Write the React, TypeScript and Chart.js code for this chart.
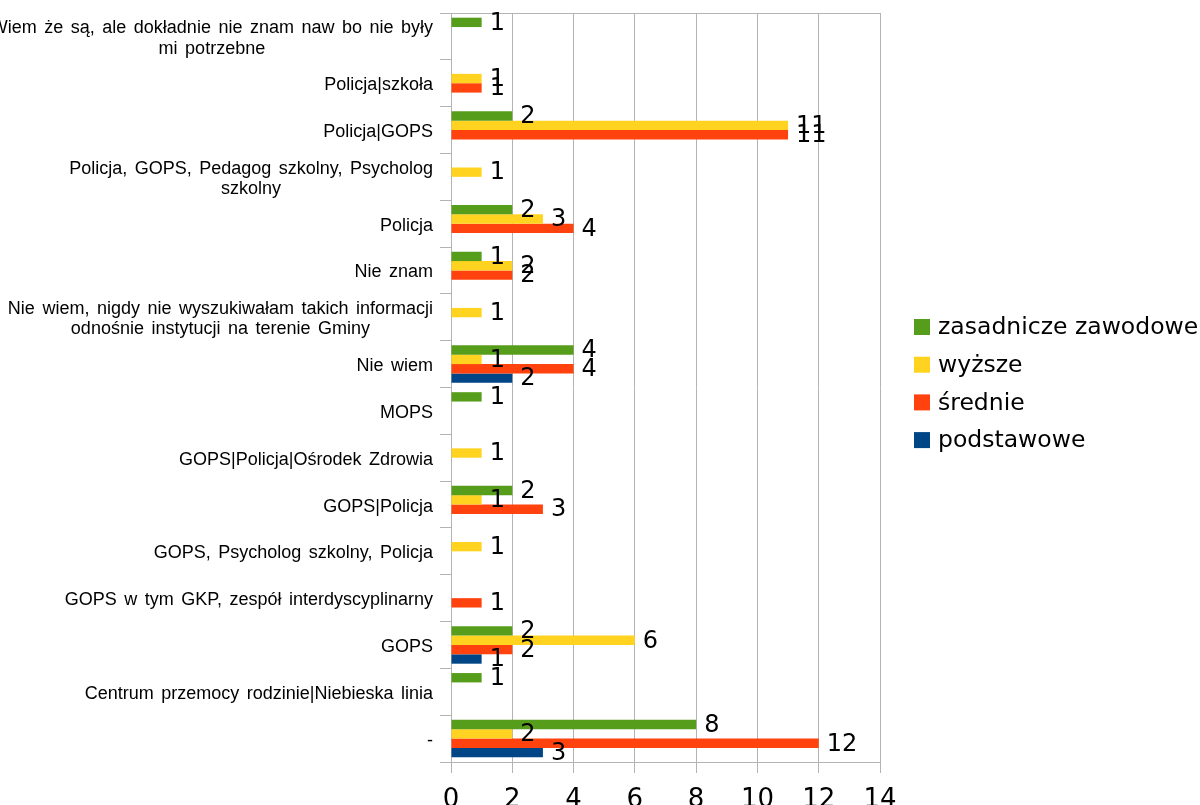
import React, { useEffect, useRef } from 'react';
import { Chart, registerables } from 'chart.js';

Chart.register(...registerables);

const categories: string[][] = [
  ['Wiem że są, ale dokładnie nie znam naw bo nie były', 'mi potrzebne'],
  ['Policja|szkoła'],
  ['Policja|GOPS'],
  ['Policja, GOPS, Pedagog szkolny, Psycholog', 'szkolny'],
  ['Policja'],
  ['Nie znam'],
  ['Nie wiem, nigdy nie wyszukiwałam takich informacji', 'odnośnie instytucji na terenie Gminy'],
  ['Nie wiem'],
  ['MOPS'],
  ['GOPS|Policja|Ośrodek Zdrowia'],
  ['GOPS|Policja'],
  ['GOPS, Psycholog szkolny, Policja'],
  ['GOPS w tym GKP, zespół interdyscyplinarny'],
  ['GOPS'],
  ['Centrum przemocy rodzinie|Niebieska linia'],
  ['-'],
];

const seriesNames = ['zasadnicze zawodowe', 'wyższe', 'średnie', 'podstawowe'];
const seriesColors = ['#579d1c', '#ffd320', '#ff420e', '#004586'];

const zasadniczeZawodowe = [1, null, 2, null, 2, 1, null, 4, 1, null, 2, null, null, 2, 1, 8];
const wyzsze = [null, 1, 11, 1, 3, 2, 1, 1, null, 1, 1, 1, null, 6, null, 2];
const srednie = [null, 1, 11, null, 4, 2, null, 4, null, null, 3, null, 1, 2, null, 12];
const podstawowe = [null, null, null, null, null, null, null, 2, null, null, null, null, null, 1, null, 3];

const xTickMin = 0;
const xTickMax = 14;
const xTickStep = 2;

const W = 1200;
const H = 805;
const GRID = '#b3b3b3';

const categoryLabelPlugin = {
  id: 'categoryLabels',
  afterDraw(chart: any) {
    const ctx = chart.ctx;
    const y = chart.scales.y;
    ctx.save();
    ctx.font = '18px "Liberation Sans"';
    try {
      (ctx as any).wordSpacing = '2.5px';
    } catch (e) {}
    ctx.fillStyle = '#000';
    ctx.textAlign = 'center';
    ctx.textBaseline = 'middle';
    const right = 433;
    const lh = 20.3;
    categories.forEach((lines, i) => {
      const cy = y.getPixelForValue(i) + 2;
      const bw = Math.max(...lines.map((l) => ctx.measureText(l).width));
      const cx = right - bw / 2;
      lines.forEach((l, j) => {
        ctx.fillText(l, cx, cy + (j - (lines.length - 1) / 2) * lh);
      });
    });
    ctx.restore();
  },
};

const valueLabelPlugin = {
  id: 'valueLabels',
  afterDatasetsDraw(chart: any) {
    const ctx = chart.ctx;
    ctx.save();
    ctx.font = '24px "DejaVu Sans"';
    ctx.fillStyle = '#000';
    ctx.textAlign = 'left';
    ctx.textBaseline = 'middle';
    chart.data.datasets.forEach((ds: any, di: number) => {
      const meta = chart.getDatasetMeta(di);
      meta.data.forEach((el: any, i: number) => {
        const v = ds.data[i];
        if (v === null || v === undefined) return;
        ctx.fillText(String(v), el.x + 8, el.y + 1);
      });
    });
    ctx.restore();
  },
};

const legendPlugin = {
  id: 'customLegend',
  afterDraw(chart: any) {
    const ctx = chart.ctx;
    ctx.save();
    ctx.font = '23.5px "DejaVu Sans"';
    ctx.textAlign = 'left';
    ctx.textBaseline = 'middle';
    const x0 = 914;
    const y0 = 327;
    const step = 37.7;
    chart.data.datasets.forEach((ds: any, i: number) => {
      const cy = y0 + i * step;
      ctx.fillStyle = ds.backgroundColor;
      ctx.fillRect(x0, cy - 8, 16, 16);
      ctx.fillStyle = '#000';
      ctx.fillText(ds.label, x0 + 24, cy + 1);
    });
    ctx.restore();
  },
};

export default function App() {
  const ref = useRef<HTMLCanvasElement | null>(null);

  useEffect(() => {
    if (!ref.current) return;
    const seriesData = [zasadniczeZawodowe, wyzsze, srednie, podstawowe];
    const chart = new Chart(ref.current, {
      type: 'bar',
      data: {
        labels: categories.map((c) => c.join(' ')),
        datasets: seriesNames.map((name, i) => ({
          label: name,
          data: seriesData[i] as any,
          backgroundColor: seriesColors[i],
          borderWidth: 0,
          barPercentage: 1,
          categoryPercentage: 0.8,
        })),
      },
      options: {
        indexAxis: 'y',
        responsive: false,
        animation: false,
        devicePixelRatio: 1,
        layout: { padding: { top: 13, right: 320, left: 0, bottom: 0 } },
        plugins: {
          legend: { display: false },
          title: { display: false },
          tooltip: { enabled: false },
        },
        scales: {
          x: {
            type: 'linear',
            min: xTickMin,
            max: xTickMax,
            ticks: {
              stepSize: xTickStep,
              color: '#000',
              font: { family: '"DejaVu Sans"', size: 26 },
              padding: 12,
            },
            grid: { color: GRID, tickLength: 11, tickColor: GRID, lineWidth: 1 },
            border: { color: GRID },
            afterFit(scale: any) {
              scale.height = H - 762;
            },
          },
          y: {
            type: 'category',
            offset: true,
            ticks: { display: false },
            grid: {
              offset: true,
              drawOnChartArea: true,
              color: (ctx: any) => (ctx.index === 0 ? GRID : 'rgba(0,0,0,0)'),
              tickColor: GRID,
              tickLength: 11,
            },
            border: { color: GRID },
            afterFit(scale: any) {
              scale.width = 451;
            },
          },
        },
      },
      plugins: [categoryLabelPlugin, valueLabelPlugin, legendPlugin],
    });
    return () => chart.destroy();
  }, []);

  return (
    <div
      style={{
        position: 'fixed',
        left: 0,
        top: 0,
        width: W,
        height: H,
        overflow: 'hidden',
        background: '#fff',
      }}
    >
      <canvas ref={ref} width={W} height={H} style={{ display: 'block' }} />
    </div>
  );
}
